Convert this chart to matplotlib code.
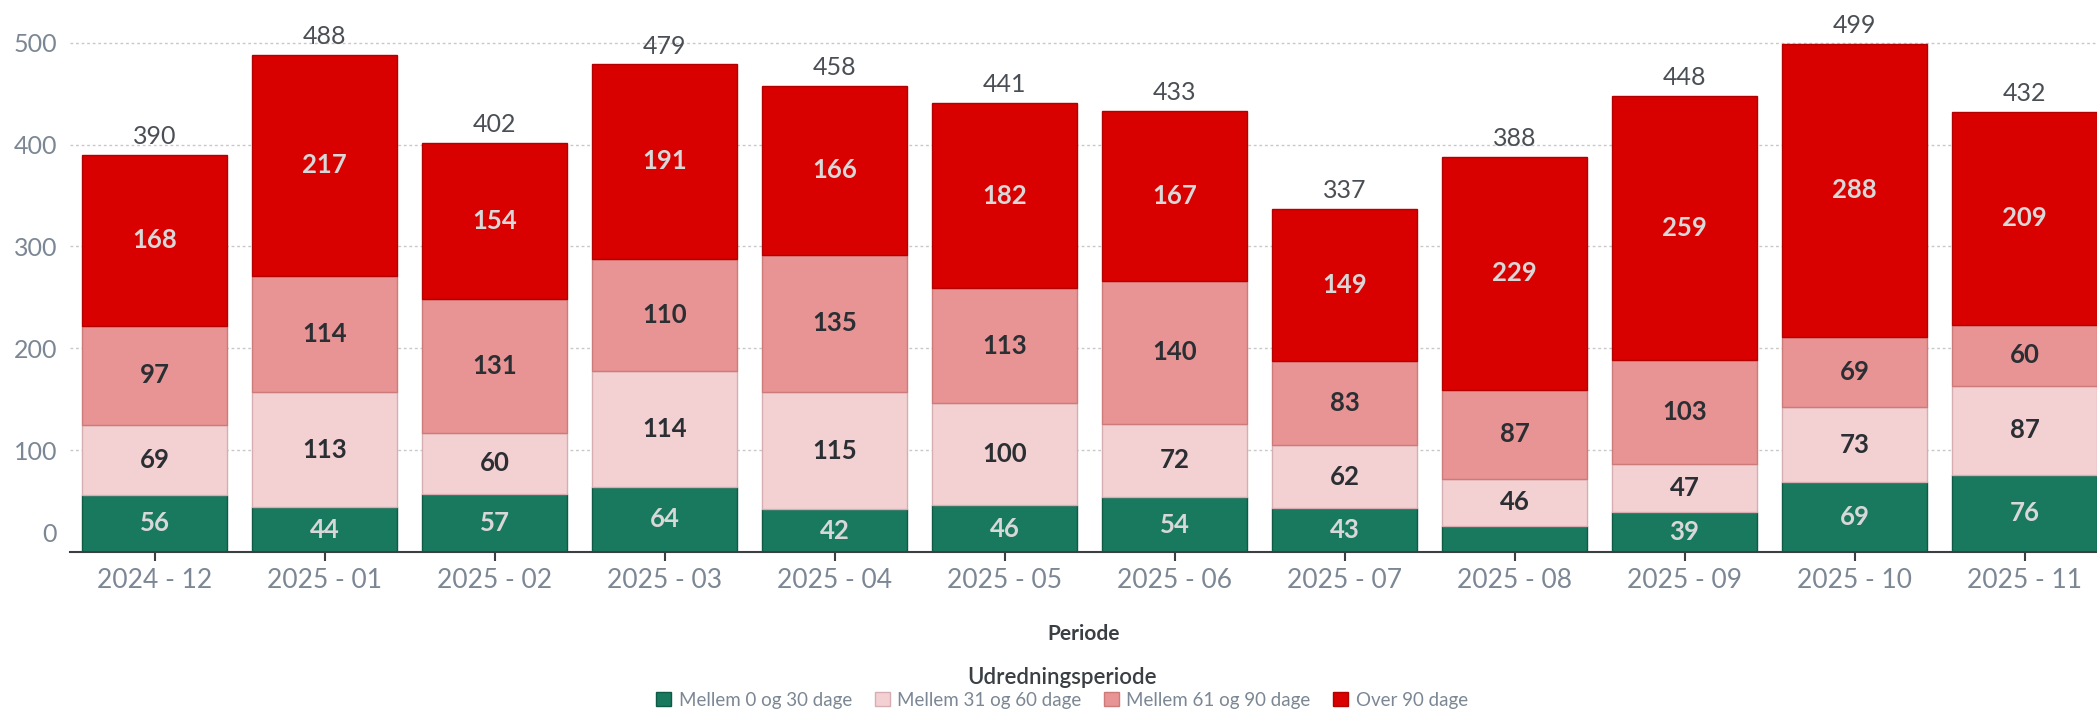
import matplotlib
matplotlib.use("Agg")
import matplotlib.pyplot as plt
import numpy as np
from matplotlib.transforms import ScaledTranslation

plt.rcParams['font.family'] = ['Lato', 'DejaVu Sans']

periods = ["2024 - 12", "2025 - 01", "2025 - 02", "2025 - 03", "2025 - 04", "2025 - 05",
           "2025 - 06", "2025 - 07", "2025 - 08", "2025 - 09", "2025 - 10", "2025 - 11"]

d0_30 = [56, 44, 57, 64, 42, 46, 54, 43, 26, 39, 69, 76]
d31_60 = [69, 113, 60, 114, 115, 100, 72, 62, 46, 47, 73, 87]
d61_90 = [97, 114, 131, 110, 135, 113, 140, 83, 87, 103, 69, 60]
over90 = [168, 217, 154, 191, 166, 182, 167, 149, 229, 259, 288, 209]

series_names = ["Mellem 0 og 30 dage", "Mellem 31 og 60 dage", "Mellem 61 og 90 dage", "Over 90 dage"]
colors = ["#19795e", "#f3d1d3", "#e89494", "#d90000"]
edges = ["#0e5a45", "#d6aeb1", "#cc7a7a", "#b30000"]
text_colors = ["#d8d8d8", "#2b2f33", "#2b2f33", "#d8d8d8"]

fig = plt.figure(figsize=(20.97, 7.11), dpi=100)
ax = fig.add_axes([69.5 / 2097, 1 - 552 / 711, 1 - 69.5 / 2097, 552 / 711])

x = np.arange(len(periods))
bar_width = 0.85
bottom = np.zeros(len(periods))

for i, vals in enumerate([d0_30, d31_60, d61_90, over90]):
    vals = np.array(vals)
    ax.bar(x, vals, bar_width, bottom=bottom, color=colors[i], edgecolor=edges[i],
           linewidth=1, label=series_names[i], zorder=3)
    for xi, b, v in zip(x, bottom, vals):
        if v >= 30:
            ax.text(xi, b + v / 2, str(v), ha="center", va="center", fontsize=18.5,
                    fontweight="bold", color=text_colors[i], zorder=4)
    bottom = bottom + vals

# totals above bars
for xi, t in zip(x, bottom):
    ax.annotate(str(int(t)), (xi, t), xytext=(0, 13), textcoords="offset points",
                ha="center", va="center", fontsize=18, color="#4a4f55")

ax.set_xlim(-0.5, 11 + 72.5 / 170)
ax.set_ylim(0, 542)
ax.set_yticks([0, 100, 200, 300, 400, 500])
ax.set_xticks(x)
ax.set_xticklabels(periods)

ax.grid(axis="y", color="#c8c8c8", linestyle=(0, (2, 2)), linewidth=1, zorder=0)
ax.set_axisbelow(True)
for s in ["top", "right", "left"]:
    ax.spines[s].set_visible(False)
ax.spines["bottom"].set_color("#3a3f44")
ax.spines["bottom"].set_linewidth(1.5)
ax.spines["bottom"].set_zorder(5)

ax.tick_params(axis="x", length=6.5, width=1.5, color="#3a3f44", pad=5,
               labelsize=19, labelcolor="#7b8794")
ax.tick_params(axis="y", length=0, pad=9, labelsize=18, labelcolor="#7b8794")

ax.set_xlabel("Periode", fontsize=15, fontweight="bold", color="#3a3f44", labelpad=22)

leg = ax.legend(loc="upper center", bbox_to_anchor=(1062 / 2097, 1 - 667 / 711),
                bbox_transform=fig.transFigure, ncol=4, frameon=False,
                title="Udredningsperiode", fontsize=13.5, handlelength=0.8, handleheight=0.8,
                handletextpad=0.4, columnspacing=1.2, borderaxespad=0, borderpad=0,
                labelspacing=0.2)
leg.get_title().set_fontsize(16)
leg.get_title().set_fontweight("semibold")
leg.get_title().set_color("#3a3f44")
for t in leg.get_texts():
    t.set_color("#7b8794")

# zero label sits slightly above the baseline
lbl0 = ax.yaxis.get_major_ticks()[0].label1
lbl0.set_transform(lbl0.get_transform() + ScaledTranslation(0, 19 / 100, fig.dpi_scale_trans))

fig.savefig("out.png", dpi=100)
